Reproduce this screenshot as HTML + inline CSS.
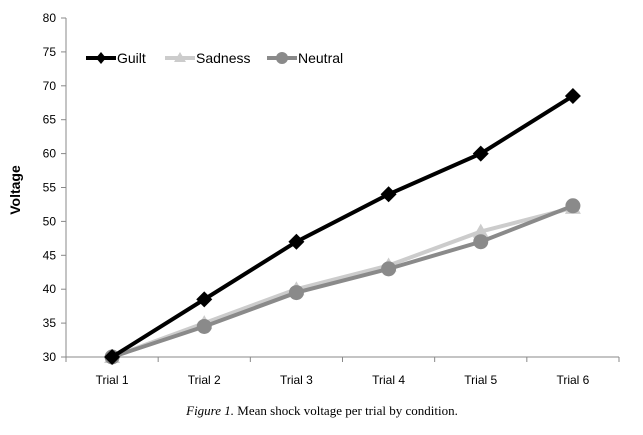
<!DOCTYPE html>
<html><head><meta charset="utf-8"><style>
body{margin:0;background:#fff;width:643px;height:430px;overflow:hidden}
text{font-family:"Liberation Sans",sans-serif}
</style></head><body>
<svg width="643" height="430">
<g id="axes"></g><g id="series"></g>
<text x="20" y="190" transform="rotate(-90 20 190)" text-anchor="middle" font-size="14" font-weight="bold">Voltage</text>
<g>
<g><line x1="86" y1="58" x2="116" y2="58" stroke="#000" stroke-width="4"/><path d="M101 52 L106 58 L101 64 L96 58Z" fill="#000"/><text x="117" y="63" font-size="14">Guilt</text></g>
<g><line x1="165" y1="58" x2="195" y2="58" stroke="#ccc" stroke-width="4"/><path d="M180 52 L186 62 L174 62Z" fill="#ccc"/><text x="196" y="63" font-size="14">Sadness</text></g>
<g><line x1="267" y1="58" x2="297" y2="58" stroke="#8a8a8a" stroke-width="4"/><circle cx="282" cy="58" r="6" fill="#8a8a8a"/><text x="298" y="63" font-size="14">Neutral</text></g>
</g>
<text x="322" y="415" text-anchor="middle" font-size="13" font-family="Liberation Serif" style="font-family:'Liberation Serif',serif"><tspan font-style="italic">Figure 1.</tspan>   Mean shock voltage per trial by condition.</text>
</svg>
<script>
const categories=["Trial 1","Trial 2","Trial 3","Trial 4","Trial 5","Trial 6"];
const yTicks=[30,35,40,45,50,55,60,65,70,75,80];
const guilt=[30,38.5,47,54,60,68.5];
const sadness=[30,35,40,43.5,48.5,52];
const neutral=[30,34.5,39.5,43,47,52.3];
const NS="http://www.w3.org/2000/svg";
const x0=66,x1=619,yTop=18,yBot=357,ymin=30,ymax=80;
const step=(x1-x0)/categories.length;
const xs=i=>x0+step*(i+0.5);
const ys=v=>yBot-(v-ymin)/(ymax-ymin)*(yBot-yTop);
function mk(t,a,p){const e=document.createElementNS(NS,t);for(const k in a)e.setAttribute(k,a[k]);p.appendChild(e);return e;}
const ax=document.getElementById('axes');
const yl=mk('line',{x1:x0,y1:yTop,x2:x0,y2:yBot,stroke:'#888'},ax);


const xl=mk('line',{x1:x0,y1:yBot,x2:x1,y2:yBot,stroke:'#888'},ax);


yTicks.forEach(v=>{
mk('line',{x1:x0-5,y1:ys(v),x2:x0,y2:ys(v),stroke:'#888'},ax);
const t=mk('text',{x:x0-10,y:ys(v)+4,'text-anchor':'end','font-size':12},ax);
t.textContent=v;


});
for(let i=0;i<=categories.length;i++)mk('line',{x1:x0+step*i,y1:yBot,x2:x0+step*i,y2:yBot+5,stroke:'#888'},ax);
categories.forEach((c,i)=>{
const t=mk('text',{x:xs(i),y:yBot+27,'text-anchor':'middle','font-size':12},ax);
t.textContent=c;


});
const sg=document.getElementById('series');
function series(data,color,shape,name){
const g=mk('g',{},sg);


mk('polyline',{points:data.map((v,i)=>xs(i)+','+ys(v)).join(' '),fill:'none',stroke:color,'stroke-width':4},g);
data.forEach((v,i)=>{
const x=xs(i),y=ys(v);let m;
if(shape==='d')m=mk('path',{d:`M${x} ${y-8}L${x+8} ${y}L${x} ${y+8}L${x-8} ${y}Z`,fill:color},g);
else if(shape==='t')m=mk('path',{d:`M${x} ${y-8}L${x+8} ${y+6}L${x-8} ${y+6}Z`,fill:color},g);
else m=mk('circle',{cx:x,cy:y,r:7.5,fill:color},g);


});
}
series(sadness,'#ccc','t','sadness');
series(neutral,'#8a8a8a','c','neutral');
series(guilt,'#000','d','guilt');
</script>
</body></html>
